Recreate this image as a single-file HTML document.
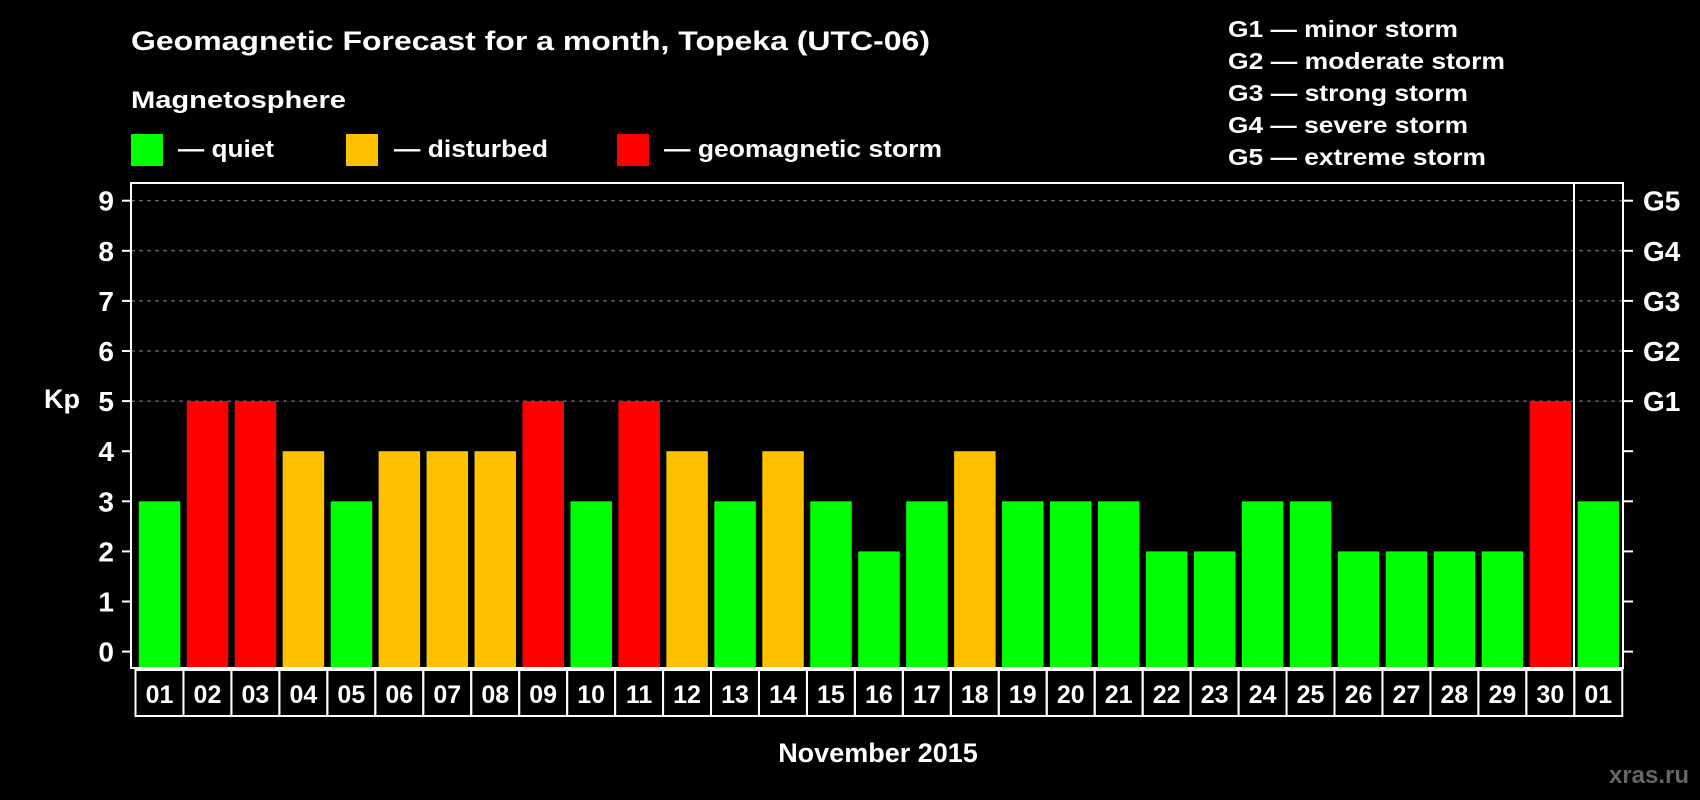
<!DOCTYPE html>
<html><head><meta charset="utf-8"><style>
html,body{margin:0;padding:0;background:#000;}
svg{display:block;font-family:"Liberation Sans",Arial,sans-serif;font-weight:bold;}
</style></head><body>
<svg id="chart" width="1700" height="800" viewBox="0 0 1700 800">
<text x="131" y="50" fill="#fff" font-size="27" textLength="799" lengthAdjust="spacingAndGlyphs">Geomagnetic Forecast for a month, Topeka (UTC-06)</text>
<text x="131" y="108" fill="#fff" font-size="24" textLength="215" lengthAdjust="spacingAndGlyphs">Magnetosphere</text>
<g><rect x="131" y="134" width="32" height="32" fill="#00ff00"/><text x="178" y="157" fill="#fff" font-size="24" textLength="96" lengthAdjust="spacingAndGlyphs">— quiet</text></g>
<g><rect x="346" y="134" width="32" height="32" fill="#ffc000"/><text x="394" y="157" fill="#fff" font-size="24" textLength="154" lengthAdjust="spacingAndGlyphs">— disturbed</text></g>
<g><rect x="617" y="134" width="32" height="32" fill="#ff0000"/><text x="664" y="157" fill="#fff" font-size="24" textLength="278" lengthAdjust="spacingAndGlyphs">— geomagnetic storm</text></g>
<g fill="#fff" font-size="23">
<text x="1228" y="37" textLength="230" lengthAdjust="spacingAndGlyphs">G1 — minor storm</text>
<text x="1228" y="69" textLength="277" lengthAdjust="spacingAndGlyphs">G2 — moderate storm</text>
<text x="1228" y="101" textLength="240" lengthAdjust="spacingAndGlyphs">G3 — strong storm</text>
<text x="1228" y="133" textLength="240" lengthAdjust="spacingAndGlyphs">G4 — severe storm</text>
<text x="1228" y="165" textLength="258" lengthAdjust="spacingAndGlyphs">G5 — extreme storm</text>
</g>
<g id="grid"></g><g id="bars"></g><g id="axes"></g><g id="labels"></g>
<text x="62" y="408" fill="#fff" font-size="27" text-anchor="middle">Kp</text>
<text x="878" y="762" fill="#fff" font-size="27" text-anchor="middle">November 2015</text>
<text x="1689" y="783" fill="#666" font-size="24" text-anchor="end">xras.ru</text>
</svg>
<script>
const days=["01","02","03","04","05","06","07","08","09","10","11","12","13","14","15","16","17","18","19","20","21","22","23","24","25","26","27","28","29","30","01"];
const kp=[3,5,5,4,3,4,4,4,5,3,5,4,3,4,3,2,3,4,3,3,3,2,2,3,3,2,2,2,2,5,3];
const yTicks=[0,1,2,3,4,5,6,7,8,9];
const gLabels=["G1","G2","G3","G4","G5"];
const NS="http://www.w3.org/2000/svg";
const L=131,R=1623,T=183,B=668;
const y=v=>651.6-50.1*v;
const xb=i=>138.8+47.96*i;
const BW=41.5;
function mk(tag,attrs,parent){const e=document.createElementNS(NS,tag);for(const k in attrs)e.setAttribute(k,attrs[k]);parent.appendChild(e);return e;}
const grid=document.getElementById('grid'),bars=document.getElementById('bars'),axes=document.getElementById('axes'),labels=document.getElementById('labels');
yTicks.forEach(v=>{
 if(v>=5){const g=mk('line',{x1:L,x2:R,y1:y(v),y2:y(v),stroke:'#888','stroke-width':1,'stroke-dasharray':'4,4'},grid);
 
 }
 const t=mk('line',{x1:L-9,x2:L,y1:y(v),y2:y(v),stroke:'#fff','stroke-width':2},axes);
 
 
 const t2=mk('line',{x1:R,x2:R+10,y1:y(v),y2:y(v),stroke:'#fff','stroke-width':2},axes);
 
 
 const lb=mk('text',{x:114,y:y(v)+10,fill:'#fff','font-size':28,'text-anchor':'end'},axes);lb.textContent=v;
 
 
});
gLabels.forEach((g,i)=>{
 const lb=mk('text',{x:1643,y:y(5+i)+10,fill:'#fff','font-size':28},axes);lb.textContent=g;
 
 
});
kp.forEach((v,i)=>{
 const c=v>=5?'#ff0000':(v>=4?'#ffc000':'#00ff00');
 const r=mk('rect',{x:xb(i),y:y(v),width:BW,height:B-y(v),fill:c},bars);
 
 
 const cell=mk('rect',{x:135.5+47.96*i,y:670,width:47.96,height:46,fill:'none',stroke:'#fff','stroke-width':2},labels);
 
 
 const t=mk('text',{x:135.5+47.96*i+24,y:703,fill:'#fff','font-size':25,'text-anchor':'middle'},labels);t.textContent=days[i];
 
 
});
const fr=mk('rect',{x:L,y:T,width:R-L,height:B-T,fill:'none',stroke:'#fff','stroke-width':2},axes);


const dv=mk('line',{x1:1574,x2:1574,y1:T,y2:B,stroke:'#fff','stroke-width':2},axes);


</script>
</body></html>
